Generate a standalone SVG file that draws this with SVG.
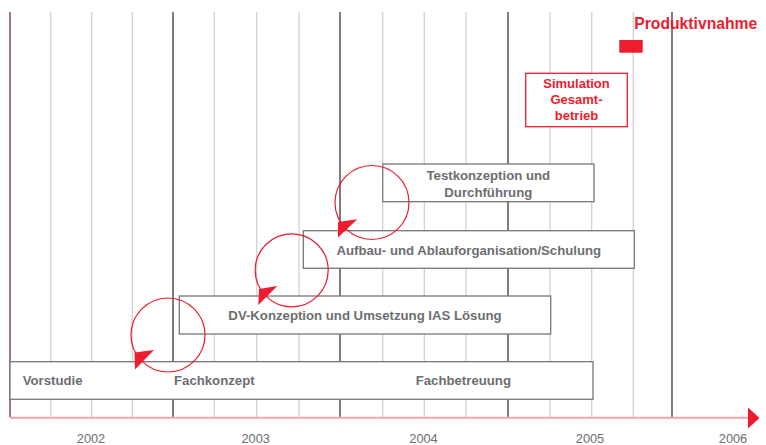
<svg xmlns="http://www.w3.org/2000/svg" width="766" height="445" viewBox="0 0 766 445">
<style>
.lg{stroke:#d2d2d2;stroke-width:1.3}
.dk{stroke:#666;stroke-width:1.7}
.bar{fill:#fff;stroke:#777;stroke-width:1.3}
.bt{font-family:"Liberation Sans",Arial,sans-serif;font-weight:bold;font-size:13.2px;fill:#6d6e71}
.rt{font-family:"Liberation Sans",Arial,sans-serif;font-weight:bold;font-size:13px;fill:#ed1c2e;text-anchor:middle}
.yr{font-family:"Liberation Sans",Arial,sans-serif;font-size:12.8px;fill:#6d6e71;text-anchor:middle}
.ring{fill:none;stroke:#ed1c2e;stroke-width:1.2}
.head{fill:#ed1c2e}
</style>
<rect width="766" height="445" fill="#fff"/>
<g id="grid">
<line class="lg" x1="50.7" y1="12" x2="50.7" y2="417"/>
<line class="lg" x1="91.7" y1="12" x2="91.7" y2="417"/>
<line class="lg" x1="132.3" y1="12" x2="132.3" y2="417"/>
<line class="lg" x1="214.3" y1="12" x2="214.3" y2="417"/>
<line class="lg" x1="256.7" y1="12" x2="256.7" y2="417"/>
<line class="lg" x1="299" y1="12" x2="299" y2="417"/>
<line class="lg" x1="382.7" y1="12" x2="382.7" y2="417"/>
<line class="lg" x1="424.3" y1="12" x2="424.3" y2="417"/>
<line class="lg" x1="466" y1="12" x2="466" y2="417"/>
<line class="lg" x1="550" y1="12" x2="550" y2="417"/>
<line class="lg" x1="591.7" y1="12" x2="591.7" y2="417"/>
<line class="lg" x1="633.3" y1="12" x2="633.3" y2="417"/>
<line class="dk" x1="173" y1="12" x2="173" y2="417"/>
<line class="dk" x1="340" y1="12" x2="340" y2="417"/>
<line class="dk" x1="508" y1="12" x2="508" y2="417"/>
<line class="dk" x1="672" y1="12" x2="672" y2="417"/>
<line x1="10" y1="12" x2="10" y2="417" stroke="#9a6a72" stroke-width="1.8"/>
</g>
<g id="axis">
<line x1="10" y1="417.8" x2="749" y2="417.8" stroke="#f5a3ab" stroke-width="2"/>
<polygon class="head" points="748,407.5 759.5,418 748,428.5"/>
<text class="yr" x="91" y="442.5">2002</text>
<text class="yr" x="255.7" y="442.5">2003</text>
<text class="yr" x="423.5" y="442.5">2004</text>
<text class="yr" x="590" y="442.5">2005</text>
<text class="yr" x="733" y="442.5">2006</text>
</g>
<g id="bar-vorstudie">
<rect class="bar" x="10" y="361.7" width="583" height="37.6"/>
<text class="bt" x="22.7" y="384.5">Vorstudie</text>
<text class="bt" x="174" y="384.5">Fachkonzept</text>
<text class="bt" x="415.7" y="384.5">Fachbetreuung</text>
</g>
<g id="bar-dv">
<rect class="bar" x="179.3" y="296" width="371.4" height="38"/>
<text class="bt" x="365" y="320" text-anchor="middle">DV-Konzeption und Umsetzung IAS Lösung</text>
</g>
<g id="bar-aufbau">
<rect class="bar" x="303.3" y="230.7" width="331" height="37.6"/>
<text class="bt" x="468.8" y="254.5" text-anchor="middle">Aufbau- und Ablauforganisation/Schulung</text>
</g>
<g id="bar-test">
<rect class="bar" x="382.7" y="164" width="211.3" height="37.7"/>
<text class="bt" x="488.3" y="180" text-anchor="middle">Testkonzeption und</text>
<text class="bt" x="488.3" y="196.7" text-anchor="middle">Durchführung</text>
</g>
<g id="simulation">
<rect x="525.7" y="73.3" width="101.6" height="53.4" fill="#fff" stroke="#ed1c2e" stroke-width="1.3"/>
<text class="rt" x="576.5" y="88">Simulation</text>
<text class="rt" x="576.5" y="104">Gesamt-</text>
<text class="rt" x="576.5" y="120">betrieb</text>
</g>
<g id="produktivnahme">
<rect x="619.3" y="40" width="23.4" height="12.7" fill="#ed1c2e"/>
<text x="634.3" y="29.3" font-family="'Liberation Sans',Arial,sans-serif" font-weight="bold" font-size="15.7px" fill="#ed1c2e">Produktivnahme</text>
</g>
<g id="connectors">
<circle class="ring" cx="168" cy="335" r="37"/>
<polygon class="head" points="134.5,352.5 154,350 135,369.5"/>
<circle class="ring" cx="291.7" cy="270.3" r="36.5"/>
<polygon class="head" points="259,289 277.3,286 258.3,305"/>
<circle class="ring" cx="372" cy="202.5" r="37"/>
<polygon class="head" points="338,222 357.3,219.3 338,237.5"/>
</g>
</svg>
